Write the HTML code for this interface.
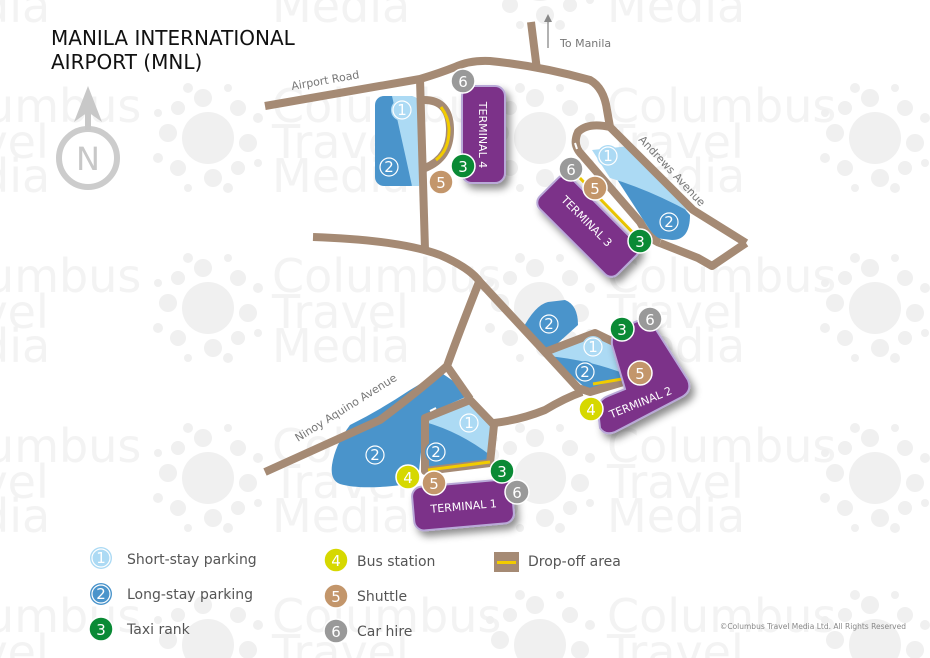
<!DOCTYPE html>
<html><head><meta charset="utf-8"><style>
html,body{margin:0;padding:0;background:#fff;width:930px;height:658px;overflow:hidden;}
svg{display:block;font-family:"Liberation Sans","DejaVu Sans",sans-serif;}
.wm{fill:#f3f3f3;font-size:46px;font-family:"DejaVu Sans",sans-serif;}
.r{fill:none;stroke:#a58a74;stroke-width:8;stroke-linejoin:round;stroke-linecap:butt;}
.dr{fill:none;stroke:#f2cc00;stroke-width:3;}
.lbl{fill:#777;font-size:11px;font-family:"DejaVu Sans",sans-serif;}
.bt{fill:#fff;font-size:15px;text-anchor:middle;font-family:"DejaVu Sans",sans-serif;}
.tt{fill:#fff;font-size:11px;text-anchor:middle;font-family:"DejaVu Sans",sans-serif;}
.lg{fill:#555;font-size:14px;font-family:"DejaVu Sans",sans-serif;}
</style></head><body>
<svg width="930" height="658" viewBox="0 0 930 658" xmlns="http://www.w3.org/2000/svg">
<defs>
<g id="dots" fill="#f0f0f0">
<circle cx="0" cy="0" r="26"/><circle cx="-40" cy="-5" r="9"/><circle cx="40" cy="5" r="9"/><circle cx="-5" cy="-40" r="9"/><circle cx="5" cy="40" r="9"/>
<circle cx="-30" cy="-30" r="7"/><circle cx="30" cy="30" r="7"/><circle cx="30" cy="-30" r="8"/><circle cx="-30" cy="30" r="8"/>
<circle cx="-50" cy="-25" r="4"/><circle cx="50" cy="25" r="4"/><circle cx="-20" cy="-50" r="5"/><circle cx="20" cy="50" r="5"/>
<circle cx="50" cy="-20" r="5"/><circle cx="-50" cy="20" r="5"/><circle cx="20" cy="-50" r="4"/><circle cx="-20" cy="50" r="4"/>
</g>
<g id="wmt" class="wm"><text x="0" y="0">Columbus</text><text x="0" y="36">Travel</text><text x="0" y="70">Media</text></g>
<filter id="sh" x="-30%" y="-30%" width="160%" height="160%"><feDropShadow dx="4" dy="5" stdDeviation="4" flood-color="#000" flood-opacity="0.45"/></filter>
</defs>

<!-- watermark -->
<use href="#wmt" x="-88" y="-48"/><use href="#wmt" x="272" y="-48"/><use href="#wmt" x="607" y="-48"/>
<use href="#wmt" x="-88" y="122"/><use href="#wmt" x="272" y="122"/><use href="#wmt" x="607" y="122"/>
<use href="#wmt" x="-88" y="292"/><use href="#wmt" x="272" y="292"/><use href="#wmt" x="607" y="292"/>
<use href="#wmt" x="-88" y="462"/><use href="#wmt" x="272" y="462"/><use href="#wmt" x="607" y="462"/>
<use href="#wmt" x="-88" y="632"/><use href="#wmt" x="272" y="632"/><use href="#wmt" x="607" y="632"/>
<use href="#dots" x="208" y="138"/><use href="#dots" x="540" y="138"/><use href="#dots" x="875" y="138"/>
<use href="#dots" x="208" y="308"/><use href="#dots" x="540" y="308"/><use href="#dots" x="875" y="308"/>
<use href="#dots" x="208" y="478"/><use href="#dots" x="540" y="478"/><use href="#dots" x="875" y="478"/>
<use href="#dots" x="208" y="645"/><use href="#dots" x="540" y="645"/><use href="#dots" x="875" y="645"/>
<use href="#dots" x="540" y="-25"/>

<!-- title -->
<text x="51" y="45" fill="#111" font-size="20" font-family="DejaVu Sans,sans-serif">MANILA INTERNATIONAL</text>
<text x="51" y="69" fill="#111" font-size="20" font-family="DejaVu Sans,sans-serif">AIRPORT (MNL)</text>

<!-- north -->
<circle cx="88" cy="158" r="29" fill="none" stroke="#ccc" stroke-width="6"/>
<text x="88" y="170" fill="#c8c8c8" font-size="32" text-anchor="middle" font-family="DejaVu Sans,sans-serif">N</text>
<rect x="85" y="108" width="6" height="22" fill="#c8c8c8"/>
<polygon points="88,86 74,122 88,112 102,122" fill="#c8c8c8"/>

<!-- parking areas -->
<rect x="375" y="96" width="44" height="90" rx="9" fill="#4a94cb"/>
<path d="M392,96 H410 Q419,96 419,105 V186 H412 Q402,140 392,96Z" fill="#acdaf4"/>
<path d="M598,150 L630,147 L690,215 Q690,240 672,240 L655,238 Z" fill="#4a94cb"/>
<path d="M592,150 L630,146 L690,212 Q650,190 610,178 Z" fill="#acdaf4"/>
<path d="M522,330 Q535,305 548,302 L565,300 Q578,305 578,325 L548,352 Z" fill="#4a94cb"/>
<path d="M545,352 L595,335 L620,345 L630,380 L590,392 Z" fill="#4a94cb"/>
<path d="M548,352 L595,335 L620,345 L628,375 Q590,360 548,356Z" fill="#acdaf4"/>
<path d="M440,372 Q460,385 470,395 L425,415 L418,480 L402,485 Q360,490 340,484 Q330,480 332,465 Q335,445 350,425 Q380,410 410,390 Z" fill="#4a94cb"/>
<path d="M425,418 L470,400 L493,425 L490,462 L425,470 Z" fill="#4a94cb"/>
<path d="M425,422 L470,402 L492,427 L490,455 Q460,432 425,422Z" fill="#acdaf4"/>

<!-- roads -->
<path class="r" d="M265,106 L420,79 Q440,73 455,67 Q470,60 490,61 Q540,66 590,80 Q604,88 607,110 L610,127 L693,210 L746,243"/>
<path class="r" d="M531,22 L537,70"/>
<path class="r" d="M746,243 L712,266 L698,258 L660,243"/>
<path class="r" d="M610,127 Q588,122 578,132 Q572,145 582,155 L640,222 Q650,240 660,243"/>
<path class="r" d="M420,79 L425,250"/>
<path class="r" d="M424,100 Q450,100 450,130 Q450,158 425,168"/>
<path class="r" d="M313,237 Q400,240 440,255 Q470,268 480,282 L545,352"/>
<path class="r" d="M479,282 Q460,330 447,366 Q420,390 380,420 L265,472"/>
<path class="r" d="M447,366 L470,399"/>
<path class="r" d="M425,418 L470,400 L494,425 L490,463 L425,471 Z"/>
<path class="r" d="M494,423 Q520,420 545,410 Q565,398 582,392"/>
<path class="r" d="M545,352 L595,333 L620,345 L630,380 L590,392 L578,388 Z"/>
<path d="M430,411 l6,-3 M595,340 l-6,2 M577,149 l-2,-6" stroke="#fff" stroke-width="2"/>

<!-- drop-off lines -->
<path class="dr" d="M441,107 Q449,118 449,130 Q449,150 436,160"/>
<path class="dr" d="M577,175 L640,240"/>
<path class="dr" d="M620,347 L628,378 L593,384"/>
<path class="dr" d="M428,470 L490,462"/>

<!-- terminals -->
<g filter="url(#sh)">
<rect x="462" y="86" width="43" height="97" rx="10" fill="#7b3289" stroke="#b9a9d8" stroke-width="2"/>
<rect x="-55" y="-22" width="110" height="44" rx="9" fill="#7b3289" stroke="#b9a9d8" stroke-width="2" transform="translate(588,226) rotate(45)"/>
<path d="M616,330 L640,320 Q652,318 655,328 L688,380 Q693,392 680,398 L615,432 Q605,436 600,428 L598,410 Q598,400 608,396 L625,389 L612,345 Q611,335 616,330Z" fill="#7b3289" stroke="#b9a9d8" stroke-width="2"/>
<rect x="-50" y="-22" width="100" height="44" rx="10" fill="#7b3289" stroke="#b9a9d8" stroke-width="2" transform="translate(463,505) rotate(-5)"/>
</g>
<text class="tt" transform="translate(479,135) rotate(90)">TERMINAL 4</text>
<text class="tt" transform="translate(584,224) rotate(45)">TERMINAL 3</text>
<text class="tt" transform="translate(642,406) rotate(-22)">TERMINAL 2</text>
<text class="tt" transform="translate(464,510) rotate(-5)">TERMINAL 1</text>

<!-- labels -->
<text class="lbl" transform="translate(292,90) rotate(-10)">Airport Road</text>
<text class="lbl" x="560" y="47">To Manila</text>
<path d="M548,48 L548,20" stroke="#888" stroke-width="1.3"/><polygon points="548,14 544,22 552,22" fill="#888"/>
<text class="lbl" transform="translate(638,140) rotate(47)">Andrews Avenue</text>
<text class="lbl" transform="translate(298,442) rotate(-32)">Ninoy Aquino Avenue</text>

<!-- badges -->
<g transform="translate(402,110)"><circle r="11" fill="#acdaf4"/><circle r="9" fill="none" stroke="#fff" stroke-width="1.2"/><text class="bt" y="5">1</text></g>
<g transform="translate(389,167)"><circle r="11" fill="#4a94cb"/><circle r="9" fill="none" stroke="#fff" stroke-width="1.2"/><text class="bt" y="5">2</text></g>
<g transform="translate(463,81)"><circle r="12" fill="#999" stroke="#fff" stroke-width="1.5"/><text class="bt" y="6">6</text></g>
<g transform="translate(463,166)"><circle r="12" fill="#0a8a35" stroke="#fff" stroke-width="1.5"/><text class="bt" y="6">3</text></g>
<g transform="translate(441,182)"><circle r="12" fill="#c3966b" stroke="#fff" stroke-width="1.5"/><text class="bt" y="6">5</text></g>

<g transform="translate(608,156)"><circle r="11" fill="#acdaf4"/><circle r="9" fill="none" stroke="#fff" stroke-width="1.2"/><text class="bt" y="5">1</text></g>
<g transform="translate(669,222)"><circle r="11" fill="#4a94cb"/><circle r="9" fill="none" stroke="#fff" stroke-width="1.2"/><text class="bt" y="5">2</text></g>
<g transform="translate(571,169)"><circle r="12" fill="#999" stroke="#fff" stroke-width="1.5"/><text class="bt" y="6">6</text></g>
<g transform="translate(595,188)"><circle r="12" fill="#c3966b" stroke="#fff" stroke-width="1.5"/><text class="bt" y="6">5</text></g>
<g transform="translate(640,241)"><circle r="12" fill="#0a8a35" stroke="#fff" stroke-width="1.5"/><text class="bt" y="6">3</text></g>

<g transform="translate(549,324)"><circle r="11" fill="#4a94cb"/><circle r="9" fill="none" stroke="#fff" stroke-width="1.2"/><text class="bt" y="5">2</text></g>
<g transform="translate(593,347)"><circle r="11" fill="#acdaf4"/><circle r="9" fill="none" stroke="#fff" stroke-width="1.2"/><text class="bt" y="5">1</text></g>
<g transform="translate(585,372)"><circle r="11" fill="#4a94cb"/><circle r="9" fill="none" stroke="#fff" stroke-width="1.2"/><text class="bt" y="5">2</text></g>
<g transform="translate(622,329)"><circle r="12" fill="#0a8a35" stroke="#fff" stroke-width="1.5"/><text class="bt" y="6">3</text></g>
<g transform="translate(650,319)"><circle r="12" fill="#999" stroke="#fff" stroke-width="1.5"/><text class="bt" y="6">6</text></g>
<g transform="translate(640,373)"><circle r="12" fill="#c3966b" stroke="#fff" stroke-width="1.5"/><text class="bt" y="6">5</text></g>
<g transform="translate(591,409)"><circle r="12" fill="#d6d800" stroke="#fff" stroke-width="1.5"/><text class="bt" y="6">4</text></g>

<g transform="translate(469,423)"><circle r="11" fill="#acdaf4"/><circle r="9" fill="none" stroke="#fff" stroke-width="1.2"/><text class="bt" y="5">1</text></g>
<g transform="translate(436,452)"><circle r="11" fill="#4a94cb"/><circle r="9" fill="none" stroke="#fff" stroke-width="1.2"/><text class="bt" y="5">2</text></g>
<g transform="translate(375,455)"><circle r="11" fill="#4a94cb"/><circle r="9" fill="none" stroke="#fff" stroke-width="1.2"/><text class="bt" y="5">2</text></g>
<g transform="translate(408,477)"><circle r="12" fill="#d6d800" stroke="#fff" stroke-width="1.5"/><text class="bt" y="6">4</text></g>
<g transform="translate(434,483)"><circle r="12" fill="#c3966b" stroke="#fff" stroke-width="1.5"/><text class="bt" y="6">5</text></g>
<g transform="translate(502,471)"><circle r="12" fill="#0a8a35" stroke="#fff" stroke-width="1.5"/><text class="bt" y="6">3</text></g>
<g transform="translate(517,492)"><circle r="12" fill="#999" stroke="#fff" stroke-width="1.5"/><text class="bt" y="6">6</text></g>

<!-- legend -->
<g transform="translate(101,558)"><circle r="11" fill="#acdaf4"/><circle r="9" fill="none" stroke="#fff" stroke-width="1.2"/><text class="bt" y="5">1</text></g>
<g transform="translate(101,594)"><circle r="11" fill="#4a94cb"/><circle r="9" fill="none" stroke="#fff" stroke-width="1.2"/><text class="bt" y="5">2</text></g>
<g transform="translate(101,629)"><circle r="12" fill="#0a8a35" stroke="#fff" stroke-width="1.5"/><text class="bt" y="6">3</text></g>
<text class="lg" x="127" y="564">Short-stay parking</text>
<text class="lg" x="127" y="599">Long-stay parking</text>
<text class="lg" x="127" y="634">Taxi rank</text>
<g transform="translate(336,560)"><circle r="12" fill="#d6d800" stroke="#fff" stroke-width="1.5"/><text class="bt" y="6">4</text></g>
<g transform="translate(336,596)"><circle r="12" fill="#c3966b" stroke="#fff" stroke-width="1.5"/><text class="bt" y="6">5</text></g>
<g transform="translate(336,631)"><circle r="12" fill="#999" stroke="#fff" stroke-width="1.5"/><text class="bt" y="6">6</text></g>
<text class="lg" x="357" y="566">Bus station</text>
<text class="lg" x="357" y="601">Shuttle</text>
<text class="lg" x="357" y="636">Car hire</text>
<rect x="494" y="552" width="25" height="20" fill="#a58a74"/>
<rect x="497" y="561" width="19" height="3" fill="#f2cc00"/>
<text class="lg" x="528" y="566">Drop-off area</text>
<text x="906" y="629" fill="#888" font-size="7.5" text-anchor="end" font-family="DejaVu Sans,sans-serif">©Columbus Travel Media Ltd. All Rights Reserved</text>
</svg>
</body></html>
